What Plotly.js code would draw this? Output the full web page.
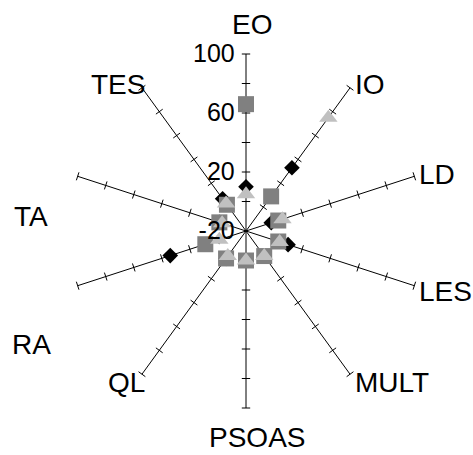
<!DOCTYPE html>
<html><head><meta charset="utf-8">
<script src="https://cdn.plot.ly/plotly-3.0.1.min.js"></script>
<style>html,body{margin:0;padding:0;background:#fff}#chart{width:473px;height:455px}</style>
</head><body><div id="chart"></div>
<script>
// ---- data ----
const muscles = ['EO','IO','LD','LES','MULT','PSOAS','QL','RA','TA','TES'];
const seriesDiamond = [10, 33, -2, 10, 1, 0, 3, 34, -1, 7];
const seriesSquare  = [66, 9, 3, 3, 1, 0, 3, 9, -1, 2];
const seriesTriangle= [5, 75, 6, 4, 1, 0, 1, -1, -3, 3];
const radialTickVals = [-20, 20, 60, 100];
const spokeTickVals = [0, 20, 40, 60, 80, 100];

// ---- layout helpers (positions, not data) ----
const W = 473, H = 455;
const cx = 246, cy = 231, R = 177;
const labelPlace = {
  EO:[252,24,'center'], IO:[353,84,'left'], LD:[417,175,'left'], LES:[417,291,'left'],
  MULT:[353,382,'left'], PSOAS:[257,437,'center'], QL:[147,382,'right'], RA:[10,344,'left'],
  TA:[12,216,'left'], TES:[147,84,'right']
};
const FONT = 'Liberation Sans, Arial, sans-serif';

// spoke tick marks built from the categories and tick values
const tR = [], tTheta = [], tAng = [];
muscles.forEach((m, i) => spokeTickVals.forEach(v => {
  tR.push(v); tTheta.push(m); tAng.push(i * 360 / muscles.length);
}));

const traces = [
  {type:'scatterpolar', mode:'markers', r:tR, theta:tTheta, hoverinfo:'skip', showlegend:false,
   marker:{symbol:'line-ew', size:6, angle:tAng, color:'black', line:{color:'black', width:1}}},
  {type:'scatterpolar', mode:'markers', r:seriesDiamond, theta:muscles, name:'1', showlegend:false,
   marker:{symbol:'diamond', size:12, color:'#000000'}},
  {type:'scatterpolar', mode:'markers', r:seriesSquare, theta:muscles, name:'2', showlegend:false,
   marker:{symbol:'square', size:16, color:'#808080'}},
  {type:'scatterpolar', mode:'markers', r:seriesTriangle, theta:muscles, name:'3', showlegend:false,
   marker:{symbol:'triangle-up', size:16, color:'#c0c0c0'}}
];

const layout = {
  width:W, height:H, margin:{l:0,r:0,t:0,b:0},
  paper_bgcolor:'#ffffff', showlegend:false,
  font:{family:FONT, color:'#000'},
  polar:{
    domain:{x:[(cx-R)/W,(cx+R)/W], y:[1-(cy+R)/H, 1-(cy-R)/H]},
    bgcolor:'rgba(0,0,0,0)',
    radialaxis:{range:[-20,100], angle:90, side:'counterclockwise', tickmode:'array',
      tickvals:radialTickVals, ticktext:radialTickVals.map(String),
      showgrid:false, showline:false, ticks:'outside', ticklen:2,
      tickcolor:'rgba(0,0,0,0)', tickangle:90,
      tickfont:{family:FONT, size:25, color:'#000'}},
    angularaxis:{type:'category', categoryarray:muscles, rotation:90, direction:'clockwise',
      showgrid:true, gridcolor:'#000', gridwidth:1, showline:false, ticks:'', showticklabels:false}
  },
  annotations: muscles.map(m => ({
    text:m, xref:'paper', yref:'paper', x:labelPlace[m][0]/W, y:1-labelPlace[m][1]/H,
    xanchor:labelPlace[m][2], yanchor:'middle', showarrow:false,
    font:{family:FONT, size:28, color:'#000'}
  }))
};
Plotly.newPlot('chart', traces, layout, {staticPlot:true, displayModeBar:false});
</script></body></html>
